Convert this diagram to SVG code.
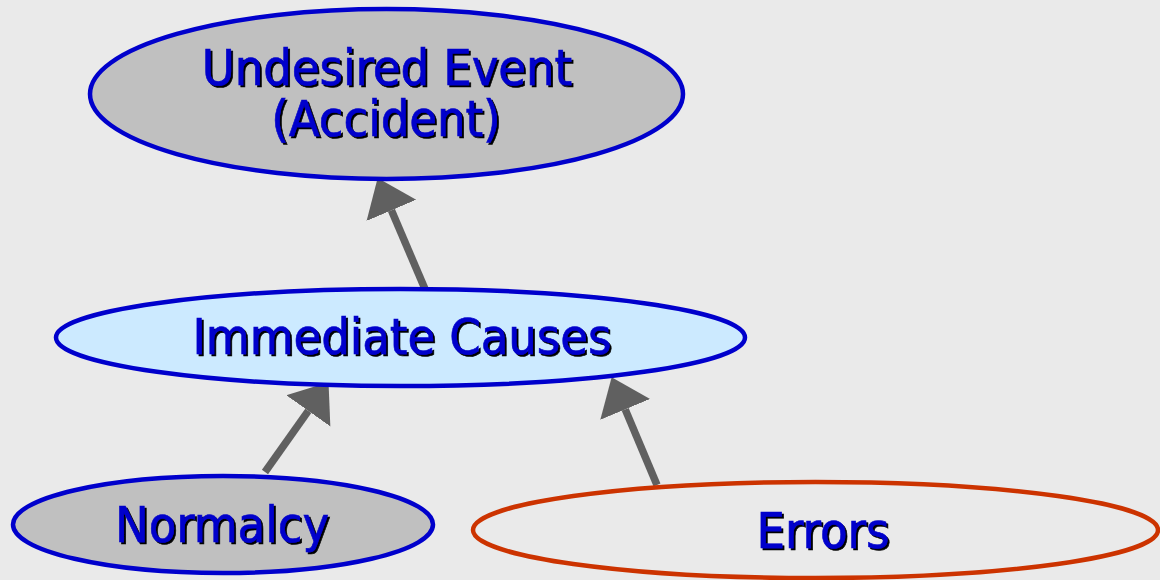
<svg xmlns="http://www.w3.org/2000/svg" width="1160" height="580" viewBox="0 0 1160 580">
  <style>
    .node { stroke-width: 4.5; }
    .blue { stroke: #0000cc; }
    .red { stroke: #cc3300; fill: none; }
    .gray { fill: #c0c0c0; }
    .sky { fill: #cceaff; }
    .label { font-family: "DejaVu Sans Condensed", "DejaVu Sans", sans-serif; font-stretch: condensed; font-size: 50px; fill: #0000cc; stroke: #0000cc; stroke-width: 0.6; text-anchor: middle; filter: url(#shadow); }
    .edge { stroke: #606060; stroke-width: 7.5; fill: none; marker-end: url(#head); }
  </style>
  <defs>
    <filter id="shadow" x="-5%" y="-20%" width="110%" height="140%">
      <feDropShadow dx="2" dy="2" stdDeviation="0.4" flood-color="#000000" flood-opacity="1"/>
    </filter>
    <marker id="head" markerUnits="userSpaceOnUse" markerWidth="40" markerHeight="60" viewBox="0 -30 40 60" refX="0" refY="0" orient="auto">
      <path d="M0,-27 L35,0 L0,27 Z" fill="#606060"/>
    </marker>
  </defs>
  <rect width="1160" height="580" fill="#eaeaea"/>

  <g id="connectors">
    <line class="edge" x1="425" y1="289" x2="391.4" y2="210.3"/>
    <line class="edge" x1="265" y1="472" x2="308.3" y2="410.8"/>
    <line class="edge" x1="657" y1="485" x2="625.2" y2="409.4"/>
  </g>

  <g id="undesired-event">
    <ellipse class="node blue gray" cx="386.5" cy="94" rx="296.5" ry="85"/>
    <text class="label" x="387" y="85">Undesired Event</text>
    <text class="label" x="386" y="136">(Accident)</text>
  </g>

  <g id="immediate-causes">
    <ellipse class="node blue sky" cx="400.5" cy="337.5" rx="344.5" ry="48.5"/>
    <text class="label" x="402" y="354">Immediate Causes</text>
  </g>

  <g id="normalcy">
    <ellipse class="node blue gray" cx="223" cy="524.5" rx="210" ry="48.5"/>
    <text class="label" x="222" y="542">Normalcy</text>
  </g>

  <g id="errors">
    <ellipse class="node red" cx="815.5" cy="530" rx="342.5" ry="48"/>
    <text class="label" x="823" y="548">Errors</text>
  </g>
</svg>
